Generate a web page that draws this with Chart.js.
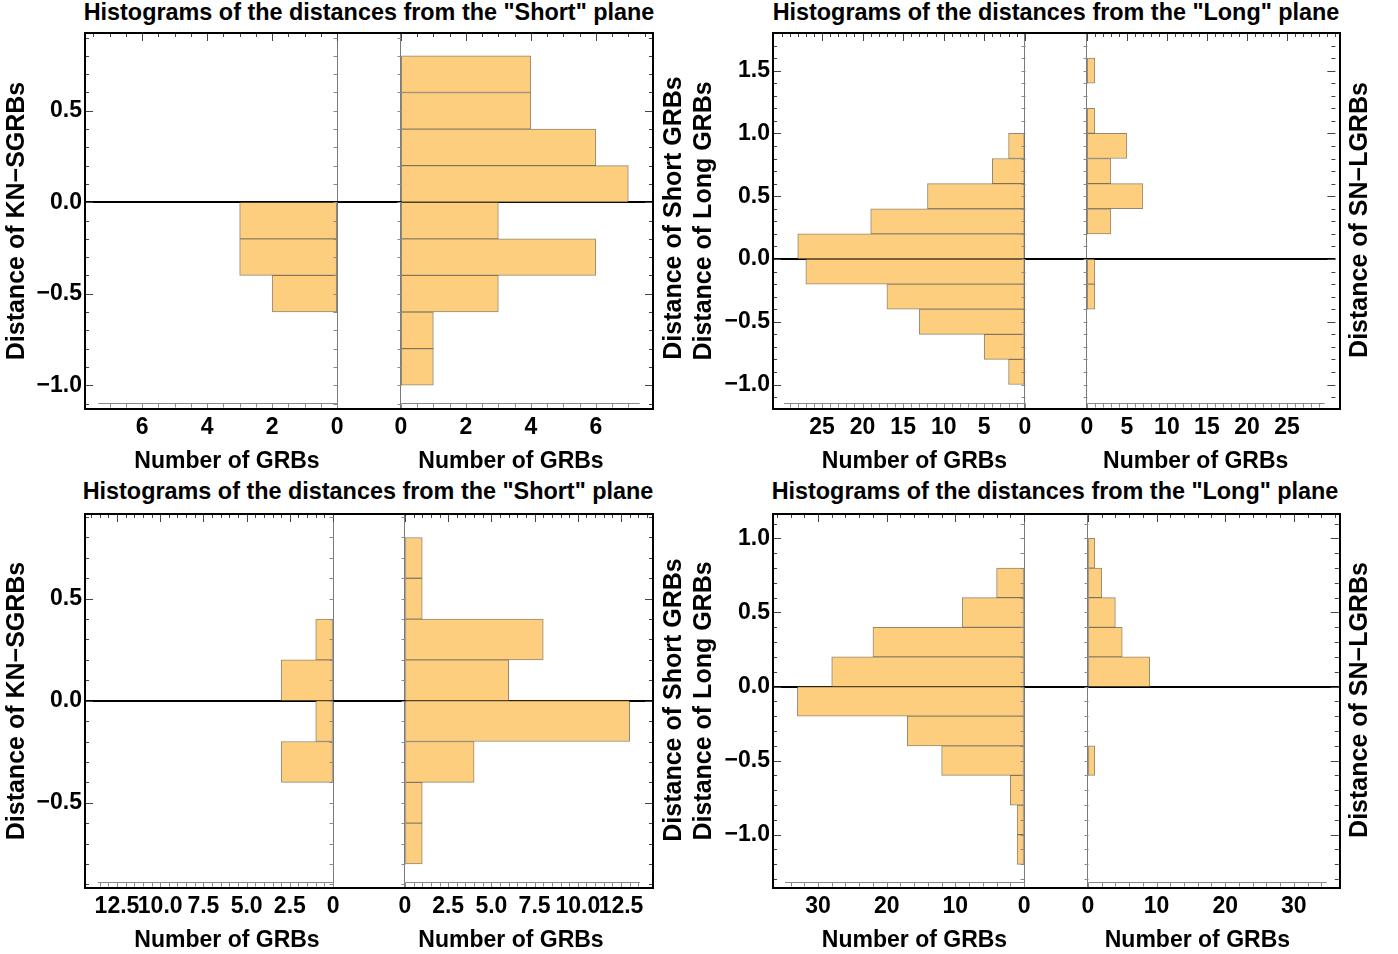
<!DOCTYPE html>
<html>
<head>
<meta charset="utf-8">
<title>Histograms of the distances from the Short and Long planes</title>
<script src="https://cdn.jsdelivr.net/npm/chart.js@4.4.1/dist/chart.umd.min.js"></script>
<style>
  html, body { margin: 0; padding: 0; background: #fff; }
  body { position: relative; width: 1398px; height: 954px; overflow: hidden;
         font-family: 'Liberation Sans', Arial, sans-serif; font-weight: bold; color: #000; }
  canvas { position: absolute; }
  .frame { position: absolute; box-sizing: border-box; border: 2px solid #000; pointer-events: none; }
  .title { position: absolute; font-size: 23.4px; line-height: 26px; white-space: nowrap; transform: translateX(-50%); }
  .vlabel { position: absolute; font-size: 25px; line-height: 30px; white-space: nowrap;
            transform: translate(-50%, -50%) rotate(-90deg); }
</style>
</head>
<body>
<div class="title" style="left:369px;top:-1px">Histograms of the distances from the "Short" plane</div>
<div class="title" style="left:1056px;top:-1px">Histograms of the distances from the "Long" plane</div>
<div class="title" style="left:368px;top:478px">Histograms of the distances from the "Short" plane</div>
<div class="title" style="left:1055px;top:478px">Histograms of the distances from the "Long" plane</div>

<canvas id="tlLeft" width="369" height="477" style="left:0;top:0"></canvas>
<canvas id="tlRight" width="284" height="477" style="left:369px;top:0"></canvas>
<canvas id="trLeft" width="369" height="477" style="left:687px;top:0"></canvas>
<canvas id="trRight" width="284" height="477" style="left:1056px;top:0"></canvas>
<canvas id="blLeft" width="369" height="477" style="left:0;top:477px"></canvas>
<canvas id="blRight" width="284" height="477" style="left:369px;top:477px"></canvas>
<canvas id="brLeft" width="369" height="477" style="left:687px;top:477px"></canvas>
<canvas id="brRight" width="284" height="477" style="left:1056px;top:477px"></canvas>

<div class="frame" style="left:84px;top:32px;width:570px;height:378px"></div>
<div class="frame" style="left:772px;top:32px;width:569px;height:378px"></div>
<div class="frame" style="left:84px;top:513px;width:570px;height:376px"></div>
<div class="frame" style="left:772px;top:513px;width:569px;height:376px"></div>

<div class="vlabel" style="left:672px;top:218px">Distance of Short GRBs</div>
<div class="vlabel" style="left:1358px;top:220px">Distance of SN&#8722;LGRBs</div>
<div class="vlabel" style="left:672px;top:700px">Distance of Short GRBs</div>
<div class="vlabel" style="left:1358px;top:700px">Distance of SN&#8722;LGRBs</div>

<script>
// bin centres (every bin is 0.2 wide) and counts
var shortBinsTop = [0.7, 0.5, 0.3, 0.1, -0.1, -0.3, -0.5, -0.7, -0.9];
var knSgrbTop    = [0, 0, 0, 0, 3, 3, 2, 0, 0];
var shortGrbTop  = [4, 4, 6, 7, 3, 6, 3, 1, 1];

var longBinsTop  = [1.5, 1.3, 1.1, 0.9, 0.7, 0.5, 0.3, 0.1, -0.1, -0.3, -0.5, -0.7, -0.9];
var longGrbTop   = [0, 0, 0, 2, 4, 12, 19, 28, 27, 17, 13, 5, 2];
var snLgrbTop    = [1, 0, 1, 5, 3, 7, 3, 0, 1, 1, 0, 0, 0];

var shortBinsBot = [0.7, 0.5, 0.3, 0.1, -0.1, -0.3, -0.5, -0.7];
var knSgrbBot    = [0, 0, 1, 3, 1, 3, 0, 0];
var shortGrbBot  = [1, 1, 8, 6, 13, 4, 1, 1];

var longBinsBot  = [0.9, 0.7, 0.5, 0.3, 0.1, -0.1, -0.3, -0.5, -0.7, -0.9, -1.1];
var longGrbBot   = [0, 4, 9, 22, 28, 33, 17, 12, 2, 1, 1];
var snLgrbBot    = [1, 2, 4, 5, 9, 0, 0, 1, 0, 0, 0];

// labelled ticks
var countTicksA = [0, 2, 4, 6];
var countTicksB = [0, 5, 10, 15, 20, 25];
var countTicksC = [0, 2.5, 5, 7.5, 10, 12.5];
var countTicksD = [0, 10, 20, 30];
var distTicksA = [-1.0, -0.5, 0, 0.5];
var distTicksB = [-1.0, -0.5, 0, 0.5, 1.0, 1.5];
var distTicksC = [-0.5, 0, 0.5];
var distTicksD = [-1.0, -0.5, 0, 0.5, 1.0];

var barFill = '#fcce7e';
var barEdge = 'rgba(105, 85, 50, 0.7)';
var fontFamily = "'Liberation Sans', Arial, sans-serif";
var tickFont = {family: fontFamily, size: 23, weight: 'bold'};
var xTitleFont = {family: fontFamily, size: 23, weight: 'bold'};
var yTitleFont = {family: fontFamily, size: 25, weight: 'bold'};

function near(a, b) { return Math.abs(a - b) < 1e-6; }
function inList(v, list) { return list.some(function (t) { return near(v, t); }); }

function stepTicks(from, to, step) {
    var out = [];
    for (var k = Math.ceil(from / step - 1e-9); k * step <= to + 1e-9; k++) {
        out.push({value: Math.round(k * step * 1e6) / 1e6});
    }
    return out;
}

function distLabel(v) {
    return (v < 0 ? '\u2212' : '') + Math.abs(v).toFixed(1);
}

// Mathematica-like frame ticks and the thin inner axes
function frameTicks(p, isLeft) {
    return {
        id: 'frameTicks',
        afterDraw: function (chart) {
            var ctx = chart.ctx, a = chart.chartArea;
            var x = chart.scales.x, y = chart.scales.y;
            var zeroX = Math.round(x.getPixelForValue(0)) + 0.5;
            var edgeX = isLeft ? a.left : a.right;
            var dir = isLeft ? 1 : -1;
            var axisY = Math.round(a.bottom - 6) + 0.5;
            var endX = x.getPixelForValue(p.axisEnd);

            ctx.save();
            ctx.lineWidth = 1;
            ctx.strokeStyle = '#444';
            ctx.beginPath();
            y.ticks.forEach(function (t) {
                var py = Math.round(y.getPixelForValue(t.value)) + 0.5;
                var len = inList(t.value, p.distTicks) ? 8 : 4;
                ctx.moveTo(edgeX, py);
                ctx.lineTo(edgeX + dir * len, py);
            });
            x.ticks.forEach(function (t) {
                var px = Math.round(x.getPixelForValue(t.value)) + 0.5;
                var len = inList(t.value, p.countTicks) ? 8 : 4;
                ctx.moveTo(px, a.top);
                ctx.lineTo(px, a.top + len);
            });
            ctx.stroke();

            ctx.strokeStyle = '#8a8a8a';
            ctx.beginPath();
            ctx.moveTo(zeroX, axisY);
            ctx.lineTo(endX, axisY);
            x.ticks.forEach(function (t) {
                if (t.value > p.axisEnd) return;
                var px = Math.round(x.getPixelForValue(t.value)) + 0.5;
                var len = inList(t.value, p.countTicks) ? 6 : 4;
                ctx.moveTo(px, axisY);
                ctx.lineTo(px, axisY + len);
            });
            y.ticks.forEach(function (t) {
                var py = Math.round(y.getPixelForValue(t.value)) + 0.5;
                ctx.moveTo(zeroX, py);
                ctx.lineTo(zeroX - 4, py);
            });
            ctx.stroke();
            ctx.restore();
        }
    };
}

function histHalf(id, side, p, counts) {
    var isLeft = side === 'left';
    var ctx = document.getElementById(id).getContext('2d');
    return new Chart(ctx, {
        type: 'bar',
        data: {
            datasets: [{
                data: p.bins.map(function (b, i) { return {x: counts[i], y: b}; }),
                backgroundColor: barFill,
                borderColor: barEdge,
                borderWidth: 1,
                borderSkipped: false,
                barThickness: 'flex',
                categoryPercentage: 1,
                barPercentage: 1
            }]
        },
        options: {
            indexAxis: 'y',
            responsive: false,
            animation: false,
            events: [],
            layout: {padding: {top: p.padTop, left: 0, right: 0, bottom: 0}},
            plugins: {
                legend: {display: false},
                tooltip: {enabled: false}
            },
            scales: {
                x: {
                    type: 'linear',
                    reverse: isLeft,
                    min: -p.gap,
                    max: p.xMax,
                    afterBuildTicks: function (scale) { scale.ticks = stepTicks(0, p.xMax, p.xStep); },
                    afterFit: function (scale) { scale.height = p.xAxisH; },
                    border: {display: false},
                    grid: {
                        drawTicks: false,
                        lineWidth: 1,
                        color: function (c) {
                            return c.tick && near(c.tick.value, 0) ? '#7a7a7a' : 'rgba(0,0,0,0)';
                        }
                    },
                    ticks: {
                        autoSkip: false,
                        maxRotation: 0,
                        minRotation: 0,
                        padding: 5,
                        color: '#000',
                        font: tickFont,
                        callback: function (v) {
                            if (!inList(v, p.countTicks) || v > p.axisEnd) return '';
                            return v === 0 ? '0' : v.toFixed(p.decimals);
                        }
                    },
                    title: {
                        display: true,
                        text: 'Number of GRBs',
                        color: '#000',
                        font: xTitleFont,
                        padding: {top: 0, bottom: p.xTitlePad}
                    }
                },
                y: {
                    type: 'linear',
                    min: p.yMin,
                    max: p.yMax,
                    offset: false,
                    z: 1,
                    afterBuildTicks: function (scale) { scale.ticks = stepTicks(p.yMin, p.yMax, 0.1); },
                    afterFit: function (scale) { scale.width = isLeft ? p.yAxisW : 0; },
                    border: {display: false},
                    grid: {
                        offset: false,
                        drawTicks: false,
                        lineWidth: 2,
                        color: function (c) {
                            return c.tick && near(c.tick.value, 0) ? '#000' : 'rgba(0,0,0,0)';
                        }
                    },
                    ticks: {
                        display: isLeft,
                        autoSkip: false,
                        padding: 3,
                        color: '#000',
                        font: tickFont,
                        callback: function (v) { return inList(v, p.distTicks) ? distLabel(v) : ''; }
                    },
                    title: {
                        display: isLeft,
                        text: p.yTitle,
                        color: '#000',
                        font: yTitleFont,
                        padding: {top: 2, bottom: 0}
                    }
                }
            }
        },
        plugins: [frameTicks(p, isLeft)]
    });
}

document.addEventListener('DOMContentLoaded', function () {
    var topRow = {padTop: 33, xAxisH: 68, xTitlePad: 2};
    var botRow = {padTop: 37, xAxisH: 66, xTitlePad: 0};

    var tl = Object.assign({}, topRow, {
        bins: shortBinsTop, yMin: -1.13, yMax: 0.925, gap: 0.98, xMax: 7.76, xStep: 0.5,
        countTicks: countTicksA, distTicks: distTicksA, decimals: 0, axisEnd: 7.35,
        yAxisW: 85, yTitle: 'Distance of KN\u2212SGRBs'
    });
    var tr = Object.assign({}, topRow, {
        bins: longBinsTop, yMin: -1.195, yMax: 1.8, gap: 3.85, xMax: 31.05, xStep: 1,
        countTicks: countTicksB, distTicks: distTicksB, decimals: 0, axisEnd: 29.7,
        yAxisW: 86, yTitle: 'Distance of Long GRBs'
    });
    var bl = Object.assign({}, botRow, {
        bins: shortBinsBot, yMin: -0.918, yMax: 0.915, gap: 2.08, xMax: 14.35, xStep: 0.5,
        countTicks: countTicksC, distTicks: distTicksC, decimals: 1, axisEnd: 13.6,
        yAxisW: 85, yTitle: 'Distance of KN\u2212SGRBs'
    });
    var br = Object.assign({}, botRow, {
        bins: longBinsBot, yMin: -1.36, yMax: 1.165, gap: 4.65, xMax: 36.55, xStep: 2,
        countTicks: countTicksD, distTicks: distTicksD, decimals: 0, axisEnd: 34.8,
        yAxisW: 86, yTitle: 'Distance of Long GRBs'
    });

    histHalf('tlLeft', 'left', tl, knSgrbTop);
    histHalf('tlRight', 'right', tl, shortGrbTop);
    histHalf('trLeft', 'left', tr, longGrbTop);
    histHalf('trRight', 'right', tr, snLgrbTop);
    histHalf('blLeft', 'left', bl, knSgrbBot);
    histHalf('blRight', 'right', bl, shortGrbBot);
    histHalf('brLeft', 'left', br, longGrbBot);
    histHalf('brRight', 'right', br, snLgrbBot);
});
</script>
</body>
</html>
